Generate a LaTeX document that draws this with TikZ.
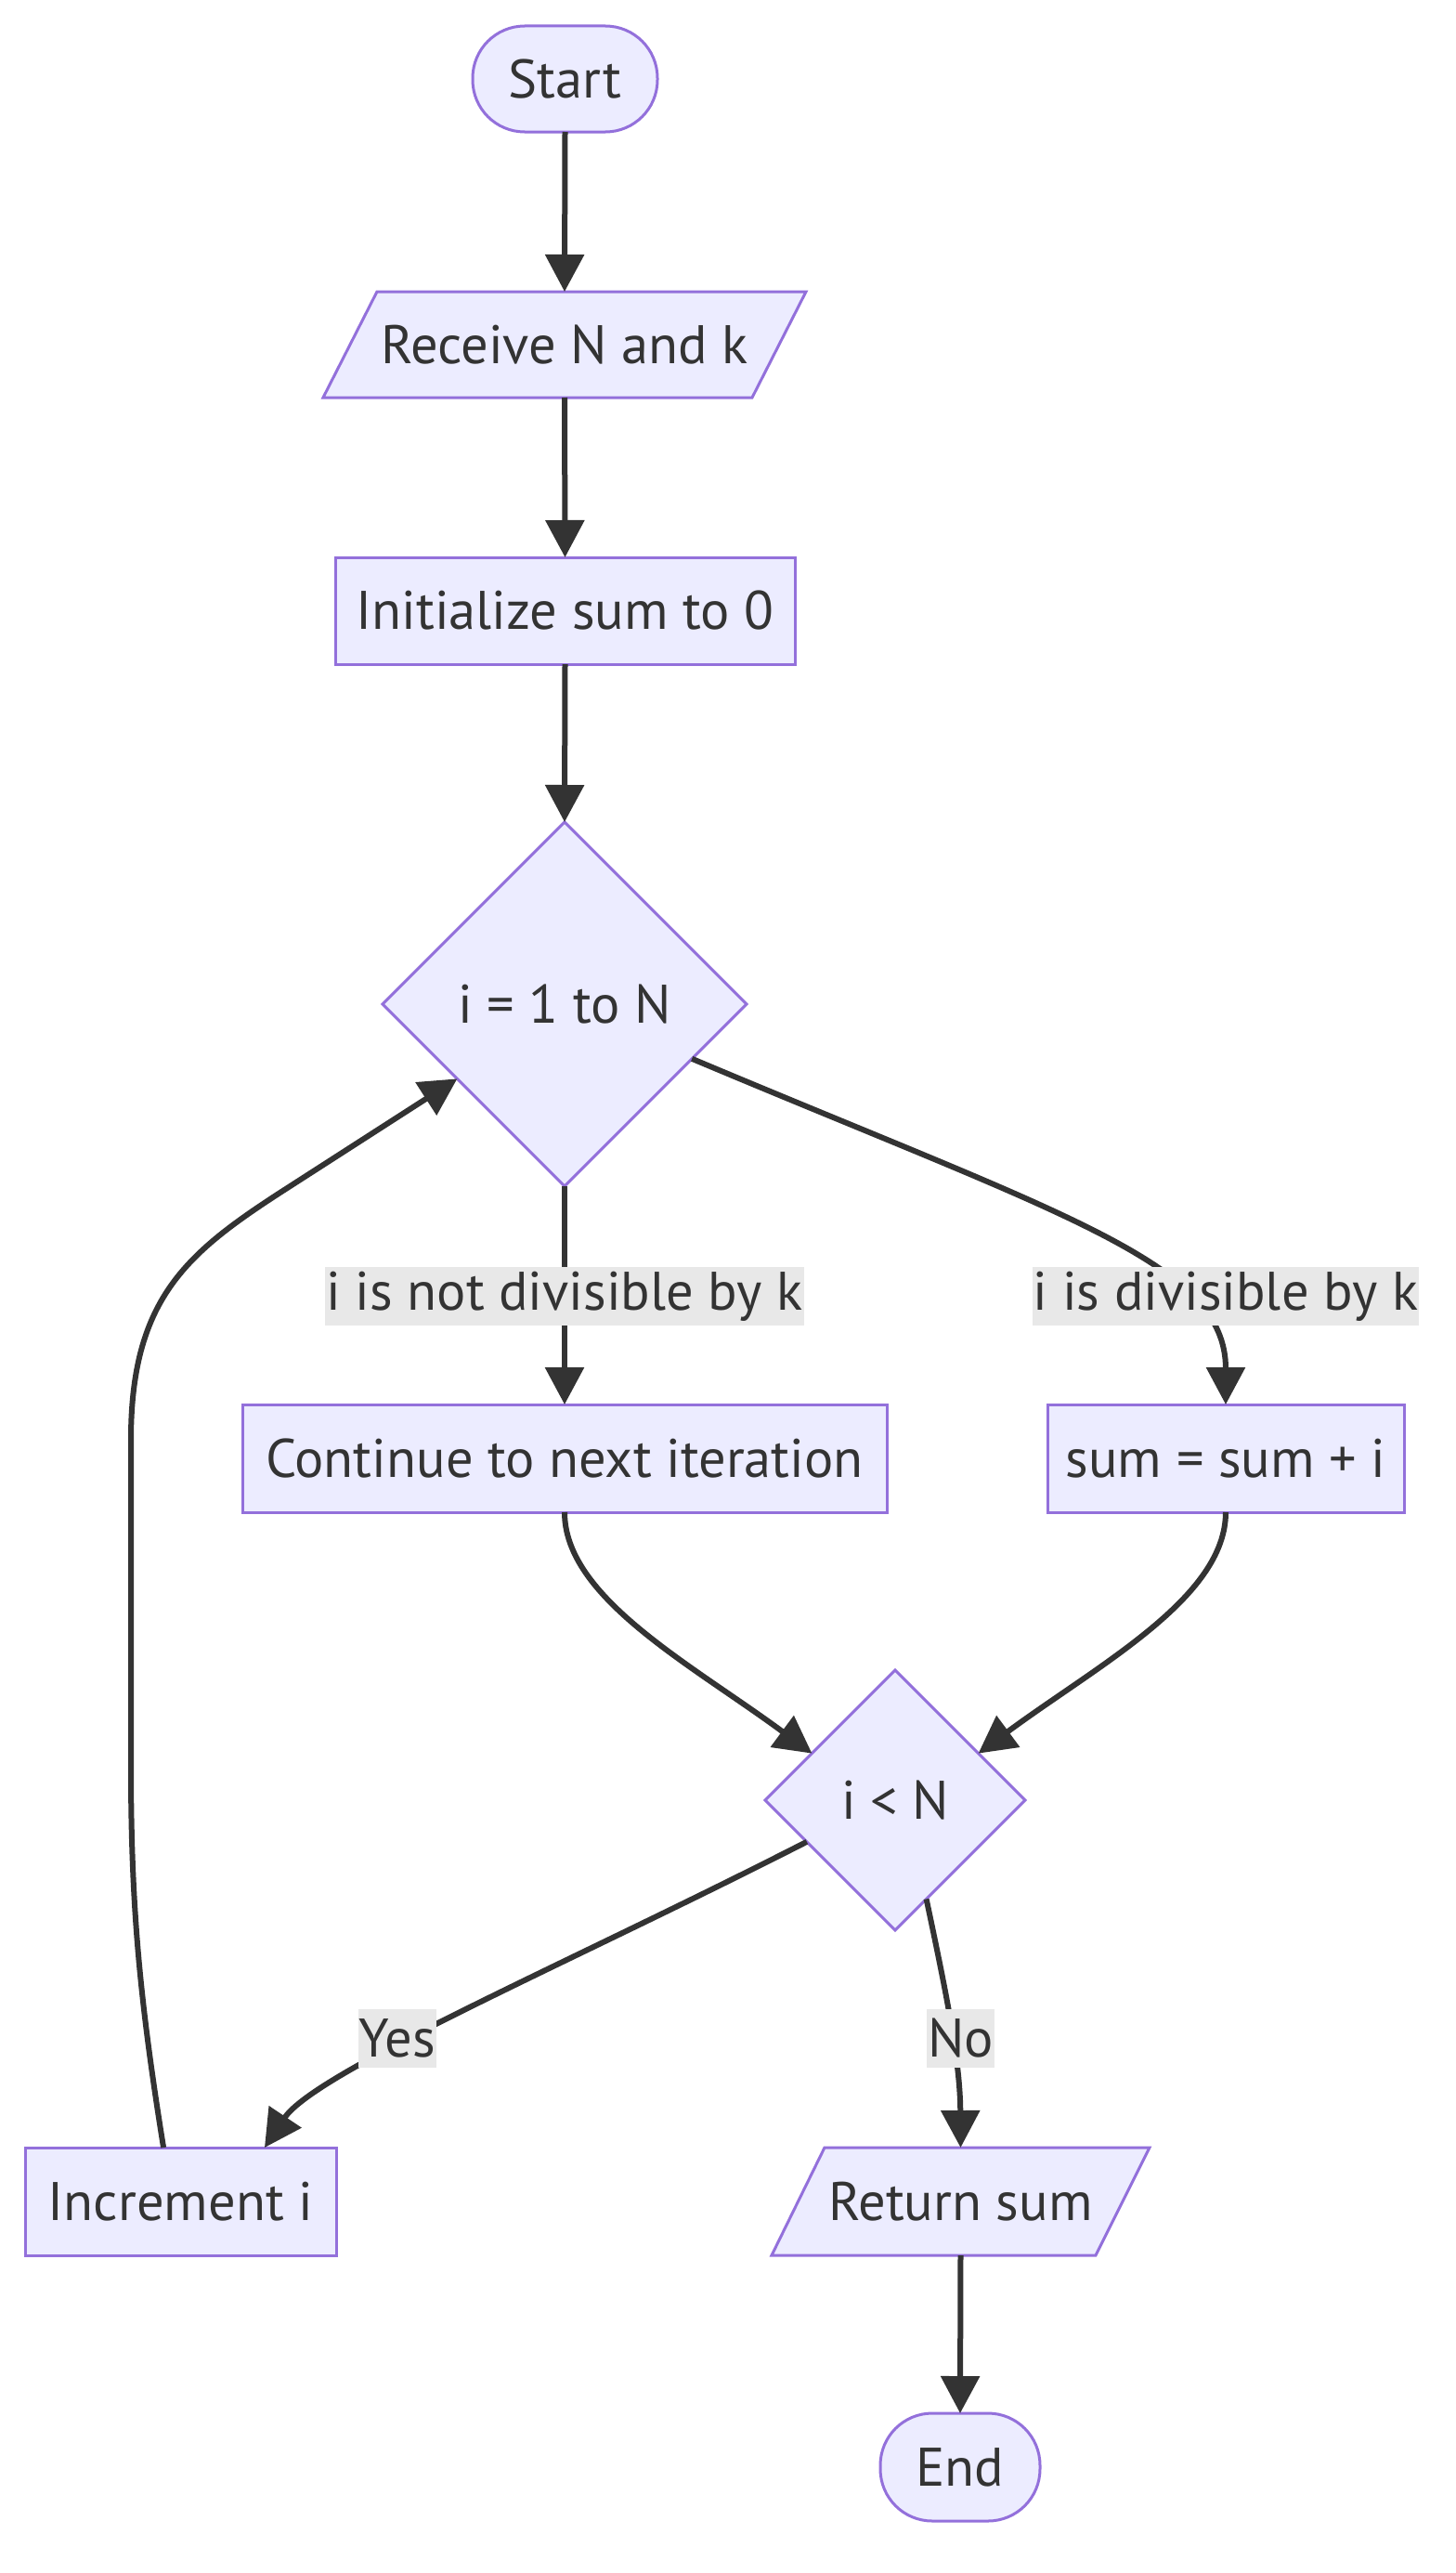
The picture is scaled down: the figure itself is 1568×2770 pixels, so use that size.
\documentclass[tikz,border=0pt]{standalone}
\usepackage{fontspec}
\setmainfont{PT Sans}
\usetikzlibrary{arrows.meta,shapes.geometric,calc}
\definecolor{nodefill}{HTML}{ECECFF}
\definecolor{nodeline}{HTML}{9370DB}
\definecolor{edgecol}{HTML}{333333}
\definecolor{lblbg}{HTML}{E8E8E8}
\begin{document}
\begin{tikzpicture}[x=1pt,y=-1pt,
  every node/.style={font=\fontsize{58.5}{68}\selectfont, text=edgecol, inner sep=0pt, outer sep=0pt},
  box/.style={draw=nodeline, fill=nodefill, line width=3pt, rectangle},
  term/.style={box, rounded corners=56pt},
  para/.style={draw=nodeline, fill=nodefill, line width=3pt},
  dec/.style={diamond, draw=nodeline, fill=nodefill, line width=3pt, aspect=1},
  lbl/.style={fill=lblbg, minimum height=63pt, inner xsep=1pt},
  flow/.style={draw=edgecol, line width=6pt, -{Triangle[length=40pt,width=41pt]}}
]
\useasboundingbox (0,0) rectangle (1568,2770);
\fill[white] (0,0) rectangle (1568,2770);

% nodes
\node[term, minimum width=199pt, minimum height=114pt] (start) at (608.5,85) {Start};
\filldraw[para] (348,428) -- (406,314) -- (868,314) -- (810,428) -- cycle;
\node[minimum width=462pt, minimum height=114pt] (recv) at (608,371) {Receive N and k};
\node[box, minimum width=495pt, minimum height=115pt] (init) at (608.5,657.5) {Initialize sum to 0};
\node[dec, minimum width=392pt, minimum height=392pt] (d1) at (608,1081) {i = 1 to N};
\node[box, minimum width=694pt, minimum height=116pt] (cont) at (608,1570) {Continue to next iteration};
\node[box, minimum width=384pt, minimum height=116pt] (sum) at (1320,1570) {sum = sum + i};
\node[dec, minimum width=280pt, minimum height=280pt] (d2) at (964,1938) {i < N};
\node[box, minimum width=335pt, minimum height=116pt] (inc) at (194.5,2370) {Increment i};
\filldraw[para] (831,2428) -- (888,2312) -- (1238,2312) -- (1180,2428) -- cycle;
\node[minimum width=350pt, minimum height=116pt] (ret) at (1034.5,2370) {Return sum};
\node[term, minimum width=172pt, minimum height=116pt] (end) at (1034,2656) {End};

% edges
\draw[flow] (start.south) -- (recv.north);
\draw[flow] (recv.south) -- (init.north);
\draw[flow] (init.south) -- (d1.north);
\draw[flow] (d1.south) -- (cont.north);
\draw[flow] ($(d1.east)!0.3!(d1.south)$) .. controls (1150,1310) and (1320,1360) .. (sum.north);
\draw[flow] (cont.south) .. controls (608,1720) and (745,1792) .. ($(d2.west)!0.36!(d2.north)$);
\draw[flow] (sum.south) .. controls (1320,1720) and (1183,1792) .. ($(d2.east)!0.36!(d2.north)$);
\draw[flow] ($(d2.west)!0.32!(d2.south)$) .. controls (620,2110) and (340,2230) .. ($(inc.north west)!0.77!(inc.north east)$);
\draw[flow] ($(d2.south)!0.24!(d2.east)$) .. controls (1020,2150) and (1034,2220) .. (ret.north);
\draw[flow] ($(inc.north west)!0.445!(inc.north east)$) .. controls (150,2150) and (141,2050) .. (141,1900) -- (141,1550) .. controls (141,1400) and (200,1350) .. (300,1285) -- ($(d1.west)!0.41!(d1.south)$);
\draw[flow] (ret.south) -- (end.north);

% edge labels
\node[lbl] (l1) at (608,1395.5) {i is not divisible by k};
\node[lbl] (l2) at (1320,1395.5) {i is divisible by k};
\node[lbl] (l3) at (428,2194.5) {Yes};
\node[lbl] (l4) at (1034.5,2194.5) {No};
\end{tikzpicture}
\end{document}
